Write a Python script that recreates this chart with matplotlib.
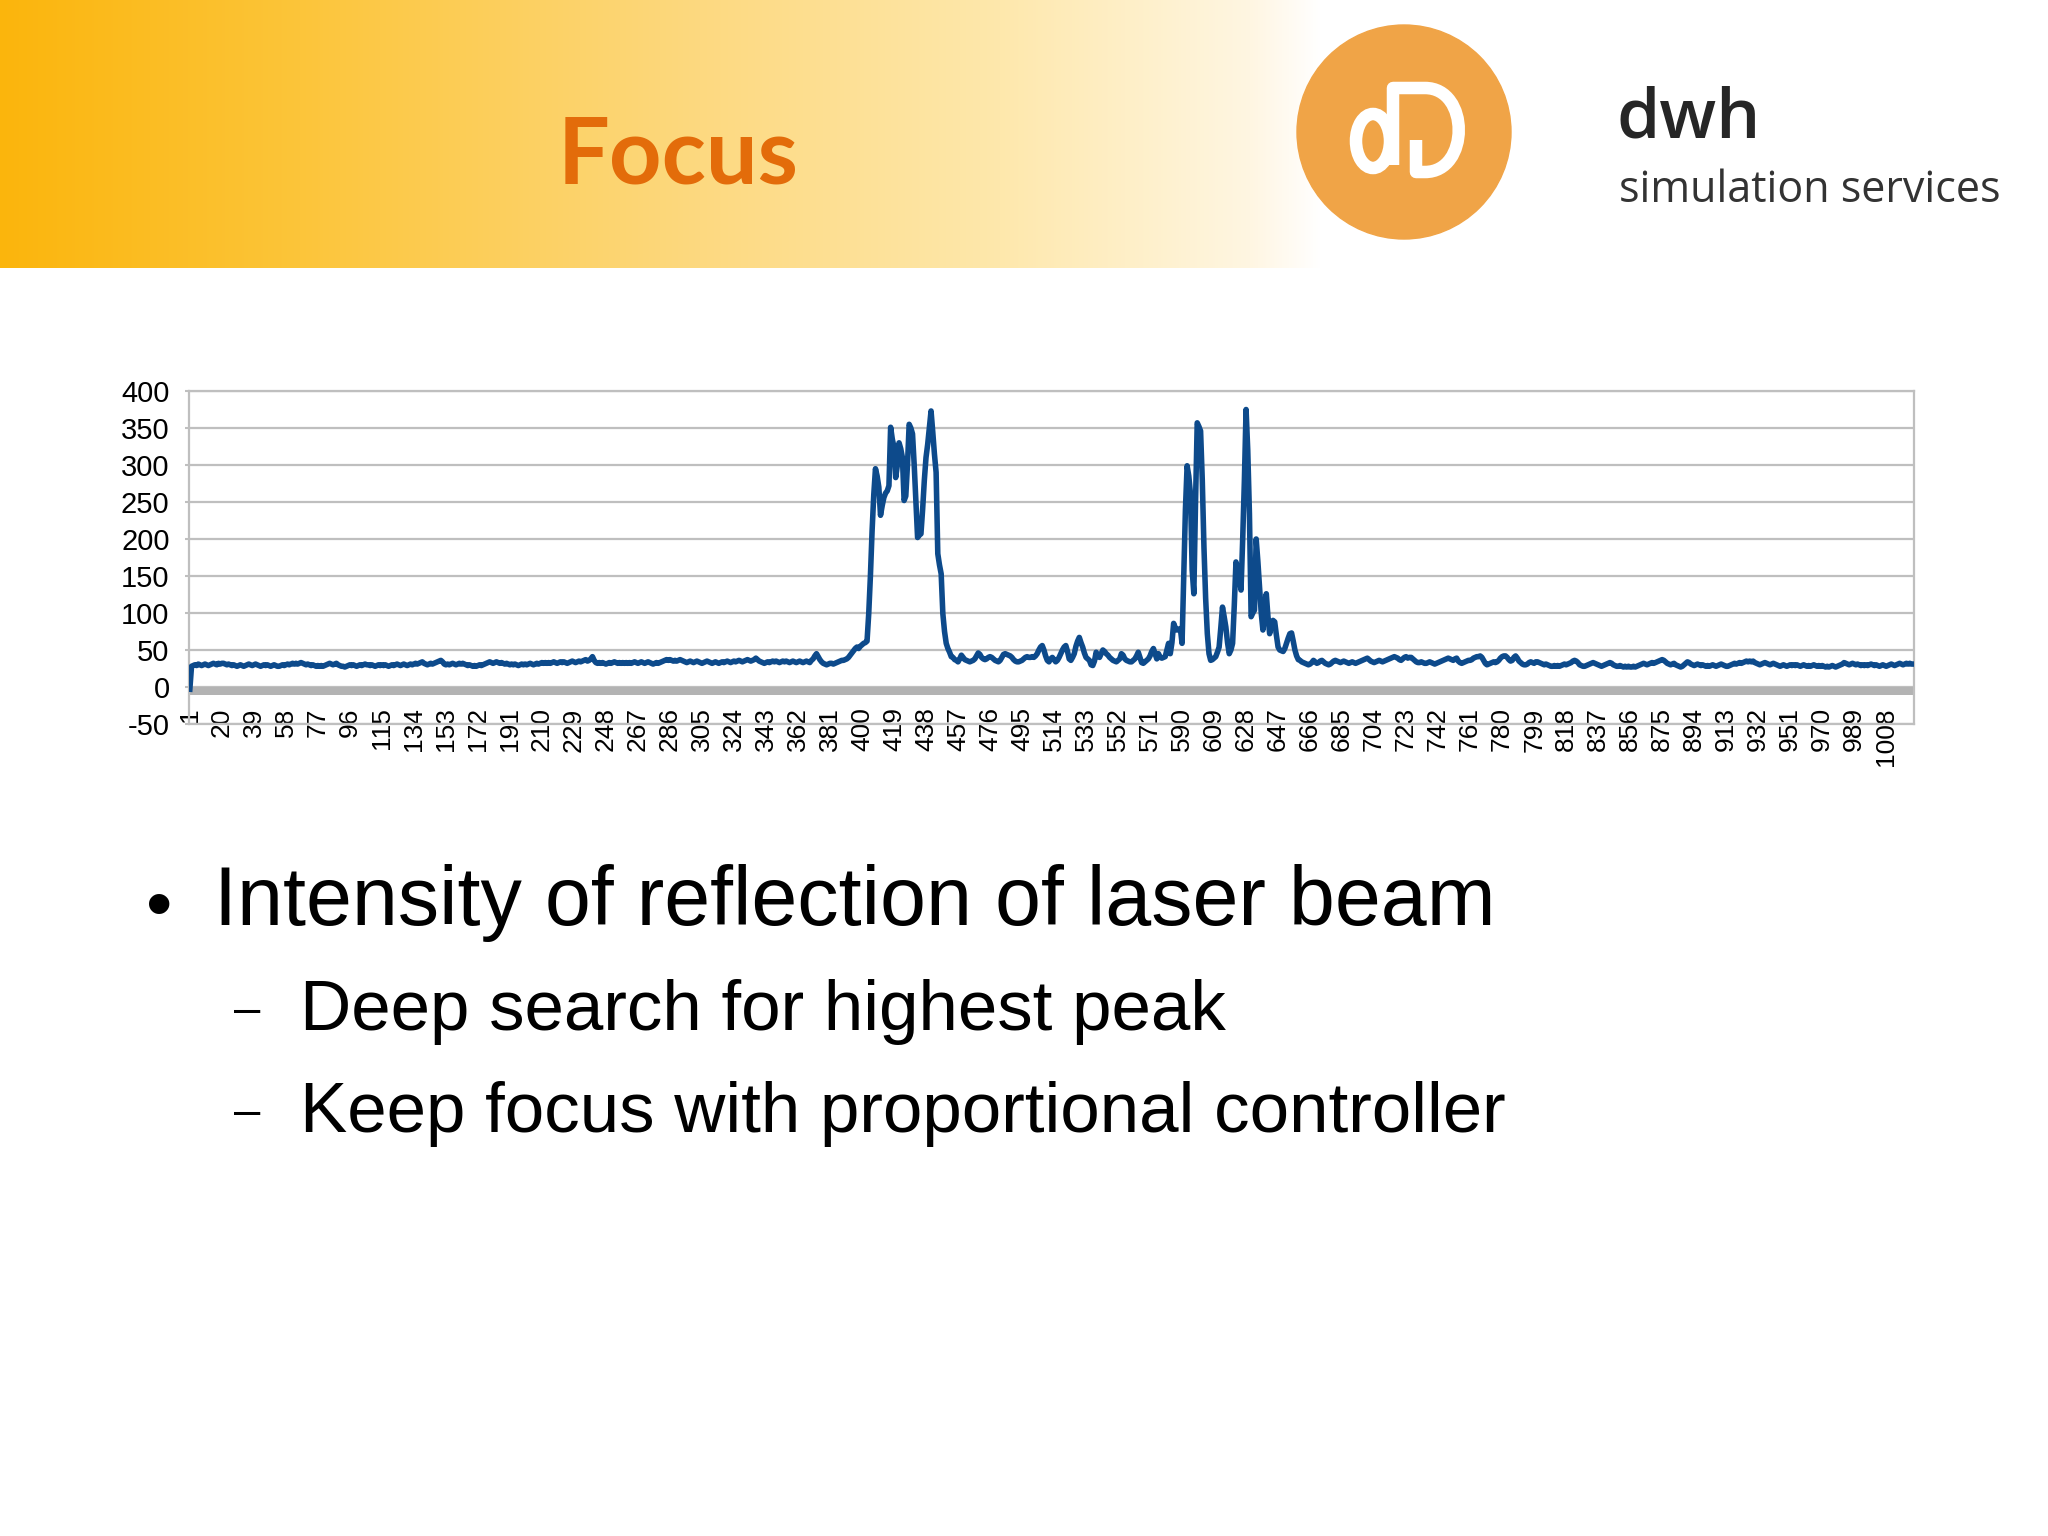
import matplotlib
matplotlib.use('Agg')
import matplotlib.pyplot as plt
import numpy as np
from matplotlib.patches import Circle, Ellipse, PathPatch
from matplotlib.path import Path

# --- data (reflection intensity per sample) ---
baseline_left = [  # samples 1-380
    -3, 28, 29, 30, 29, 31, 30, 29, 30, 31, 30, 29, 30, 31, 32, 31, 30, 32, 31, 32,
    32, 31, 30, 31, 30, 29, 30, 29, 28, 29, 30, 29, 28, 29, 30, 31, 30, 29, 30, 31,
    30, 29, 28, 29, 30, 29, 30, 29, 28, 29, 30, 29, 28, 28, 29, 30, 29, 30, 31, 30,
    31, 32, 31, 32, 31, 32, 33, 32, 31, 30, 31, 30, 29, 30, 29, 28, 29, 28, 29, 28,
    29, 30, 31, 32, 31, 30, 31, 32, 30, 29, 28, 28, 27, 28, 29, 30, 29, 30, 29, 28,
    29, 30, 29, 30, 31, 30, 30, 29, 30, 29, 28, 29, 30, 29, 30, 29, 30, 29, 28, 29,
    30, 29, 30, 31, 30, 29, 30, 31, 30, 29, 30, 31, 30, 31, 32, 31, 32, 33, 34, 32,
    31, 30, 31, 32, 31, 32, 33, 34, 35, 36, 34, 31, 30, 31, 30, 31, 32, 31, 30, 31,
    32, 31, 32, 31, 30, 29, 30, 29, 28, 29, 28, 29, 30, 29, 30, 31, 32, 33, 34, 33,
    32, 33, 34, 33, 32, 33, 32, 31, 32, 31, 30, 31, 30, 31, 30, 29, 30, 31, 30, 31,
    30, 31, 32, 31, 30, 31, 32, 31, 32, 33, 32, 33, 32, 33, 32, 33, 34, 33, 32, 33,
    34, 33, 34, 33, 32, 33, 34, 35, 34, 33, 34, 35, 34, 35, 36, 37, 35, 36, 38, 41,
    36, 33, 32, 33, 32, 33, 32, 31, 32, 33, 32, 33, 34, 33, 32, 33, 32, 33, 32, 33,
    32, 33, 32, 33, 34, 33, 32, 33, 34, 33, 32, 33, 34, 33, 32, 31, 32, 33, 32, 33,
    34, 35, 36, 37, 36, 37, 36, 35, 36, 35, 36, 37, 36, 35, 34, 33, 34, 35, 34, 33,
    34, 35, 34, 33, 32, 33, 34, 35, 34, 33, 32, 33, 34, 33, 32, 33, 34, 33, 34, 35,
    34, 33, 34, 35, 34, 35, 36, 35, 34, 35, 36, 37, 36, 35, 36, 37, 39, 37, 35, 34,
    33, 32, 33, 34, 33, 34, 35, 34, 35, 34, 33, 34, 35, 34, 35, 34, 33, 34, 35, 34,
    33, 34, 35, 34, 33, 34, 35, 34, 33, 36, 38, 42, 45, 41, 37, 34, 32, 31, 30, 31,
]
first_peak = [  # samples 381-460
    32, 32, 31, 32, 33, 34, 35, 36, 36, 37, 38, 40, 43, 46, 49, 52, 54, 52, 55, 57,
    59, 60, 62, 99, 150, 211, 260, 295, 285, 270, 232, 245, 256, 262, 265, 272, 351, 335, 324, 283,
    300, 330, 322, 310, 252, 258, 300, 355, 350, 342, 300, 252, 202, 205, 207, 240, 279, 310, 328, 350,
    373, 345, 315, 290, 180, 165, 153, 99, 75, 59, 52, 47, 41, 40, 37, 36, 34, 38, 43, 40,
]
between_peaks = [  # samples 461-585
    37, 36, 35, 34, 35, 36, 38, 42, 46, 44, 40, 38, 37, 38, 40, 41, 40, 38, 36, 35,
    34, 36, 40, 44, 45, 44, 43, 42, 40, 37, 35, 34, 34, 35, 36, 38, 40, 41, 40, 40,
    41, 40, 42, 45, 50, 54, 56, 50, 42, 36, 34, 38, 40, 37, 34, 36, 40, 45, 50, 54,
    56, 48, 38, 36, 40, 45, 55, 62, 67, 60, 54, 46, 40, 38, 36, 30, 29, 35, 47, 42,
    40, 45, 50, 48, 45, 43, 40, 38, 36, 35, 34, 36, 38, 45, 43, 38, 36, 35, 34, 34,
    36, 38, 42, 47, 40, 33, 32, 34, 36, 38, 42, 48, 52, 45, 38, 45, 40, 39, 40, 41,
    50, 59, 45, 60, 86,
]
second_peak = [  # samples 586-660
    80, 77, 78, 79, 59, 150, 240, 299, 285, 261, 158, 126, 250, 357, 352, 346, 280, 189, 120, 72,
    45, 36, 37, 39, 41, 47, 54, 80, 108, 95, 81, 60, 45, 50, 59, 110, 169, 160, 149, 131,
    200, 279, 375, 320, 234, 95, 100, 104, 200, 170, 135, 100, 77, 100, 126, 95, 72, 85, 90, 88,
    70, 54, 50, 49, 48, 52, 59, 66, 72, 73, 62, 50, 42, 37, 36,
]
baseline_right = [  # samples 661-1024
    34, 33, 32, 31, 30, 31, 33, 36, 34, 32, 33, 35, 36, 34, 32, 31, 30, 31, 33, 35,
    36, 35, 34, 33, 34, 35, 34, 33, 32, 33, 34, 33, 32, 33, 34, 35, 36, 37, 38, 39,
    37, 35, 34, 33, 34, 35, 36, 35, 34, 35, 36, 37, 38, 39, 40, 41, 40, 39, 37, 36,
    38, 40, 41, 39, 40, 40, 38, 36, 34, 33, 33, 34, 33, 32, 32, 33, 34, 33, 32, 31,
    32, 33, 34, 35, 36, 37, 38, 39, 38, 37, 36, 38, 39, 35, 33, 32, 33, 34, 35, 36,
    36, 37, 39, 40, 41, 41, 42, 40, 36, 32, 30, 31, 32, 33, 34, 33, 34, 36, 39, 41,
    42, 42, 40, 37, 35, 36, 40, 42, 39, 35, 33, 31, 30, 30, 31, 33, 34, 33, 32, 34,
    34, 33, 32, 31, 30, 31, 30, 29, 28, 28, 29, 28, 29, 28, 29, 30, 31, 30, 31, 32,
    33, 35, 36, 35, 33, 30, 29, 28, 28, 29, 30, 31, 32, 33, 32, 31, 30, 29, 28, 29,
    30, 31, 32, 33, 32, 30, 29, 28, 28, 29, 28, 27, 28, 27, 28, 27, 27, 28, 27, 28,
    29, 30, 31, 32, 31, 30, 31, 32, 33, 32, 33, 34, 35, 36, 37, 36, 34, 32, 31, 30,
    31, 32, 30, 29, 28, 27, 28, 30, 32, 34, 33, 31, 30, 29, 30, 31, 30, 29, 30, 29,
    28, 29, 28, 29, 30, 29, 28, 29, 30, 31, 30, 29, 28, 28, 29, 30, 31, 32, 31, 32,
    33, 32, 33, 34, 35, 34, 35, 34, 35, 33, 32, 31, 30, 31, 32, 33, 32, 31, 30, 31,
    32, 31, 30, 29, 28, 29, 30, 29, 28, 29, 30, 29, 30, 29, 30, 29, 28, 29, 30, 29,
    28, 29, 28, 29, 30, 29, 28, 29, 28, 29, 28, 27, 28, 27, 28, 29, 28, 27, 28, 29,
    30, 31, 33, 32, 31, 30, 31, 32, 31, 30, 31, 30, 29, 30, 29, 30, 29, 30, 31, 30,
    29, 30, 29, 28, 29, 30, 29, 28, 29, 30, 31, 30, 29, 30, 31, 32, 31, 30, 31, 32,
    31, 32, 31, 31,
]
intensity = baseline_left + first_peak + between_peaks + second_peak + baseline_right
samples = np.arange(1, len(intensity) + 1)
category_ticks = list(range(1, len(intensity) + 1, 19))
y_ticks = [-50, 0, 50, 100, 150, 200, 250, 300, 350, 400]

title = 'Focus'
bullet = 'Intensity of reflection of laser beam'
sub_bullets = ['Deep search for highest peak', 'Keep focus with proportional controller']

W, H = 2048, 1536
fig = plt.figure(figsize=(W / 100, H / 100), dpi=100)

# slide background, drawn in pixel coordinates
bg = fig.add_axes([0, 0, 1, 1])
bg.set_xlim(0, W)
bg.set_ylim(H, 0)
bg.axis('off')

# header band: orange-yellow fading to white
stops_x = [0, 300, 700, 1000, 1250, 1320, W]
stops_rgb = [(251, 181, 12), (252, 197, 58), (253, 217, 128), (254, 232, 172),
             (255, 246, 226), (255, 255, 255), (255, 255, 255)]
xs = np.arange(W)
grad = np.stack([np.interp(xs, stops_x, [c[i] for c in stops_rgb]) for i in range(3)], axis=-1) / 255
bg.imshow(grad[np.newaxis, :, :], extent=[0, W, 268, 0], aspect='auto', zorder=0)

bg.text(678, 184, title, fontsize=66, fontweight='bold', family='Lato',
        color='#E36C0A', ha='center', va='baseline')

# logo
bg.add_patch(Circle((1404, 132), 107, color='#F0A447', zorder=2))
logo_d = Path([(1393, 165), (1393, 88), (1425, 88), (1470, 88), (1470, 172), (1425, 172),
               (1416, 172), (1416, 140)],
              [Path.MOVETO, Path.LINETO, Path.LINETO, Path.CURVE4, Path.CURVE4, Path.CURVE4,
               Path.LINETO, Path.LINETO])
bg.add_patch(PathPatch(logo_d, facecolor='none', edgecolor='white', lw=9,
                       capstyle='butt', joinstyle='round', zorder=3))
bg.add_patch(Ellipse((1373, 141), 34, 54, facecolor='none', edgecolor='white', lw=9, zorder=3))

bg.text(1617, 138, 'dwh', fontsize=50, fontweight='semibold', family='Open Sans',
        color='#262626', ha='left', va='baseline')
bg.text(1619, 202, 'simulation services', fontsize=31, fontweight='normal', family='Open Sans',
        color='#333333', ha='left', va='baseline')

# bullets
bg.text(159, 910, '\u2022', fontsize=54, family='Liberation Sans', color='black',
        ha='center', va='center')
bg.text(214, 925, bullet, fontsize=59.5, family='Liberation Sans', color='black',
        ha='left', va='baseline')
for y, line in zip([1030, 1132], sub_bullets):
    bg.text(247, y - 7, '\u2013', fontsize=34, family='Liberation Sans', color='black',
            ha='center', va='baseline')
    bg.text(300, y, line, fontsize=51, family='Liberation Sans', color='black',
            ha='left', va='baseline')

# chart
ax = fig.add_axes([189 / W, 1 - 724 / H, (1914 - 189) / W, (724 - 391) / H])
ax.set_facecolor('white')
ax.axhspan(-11, 0, color='#b3b3b3', lw=0, zorder=1)
ax.plot(samples, intensity, color='#0D4A8B', lw=4, zorder=3, solid_joinstyle='round')

ax.set_xlim(0.5, len(intensity) + 0.5)
ax.set_ylim(-50, 400)
ax.set_yticks(y_ticks)
ax.set_yticklabels([str(v) for v in y_ticks], fontsize=21, family='Liberation Sans')
ax.set_xticks(category_ticks)
ax.set_xticklabels([str(c) for c in category_ticks], rotation=90, fontsize=19,
                   family='Liberation Sans', va='top', ha='center')
ax.tick_params(axis='x', length=0, pad=-12)
ax.tick_params(axis='y', length=3, width=1.5, color='#bfbfbf', pad=11)
ax.yaxis.grid(True, color='#bfbfbf', lw=1.6, zorder=0)
ax.set_axisbelow(True)
for side in ['left', 'right', 'top', 'bottom']:
    ax.spines[side].set_color('#bfbfbf')
    ax.spines[side].set_linewidth(1.6)

fig.savefig('out.png', dpi=100)
